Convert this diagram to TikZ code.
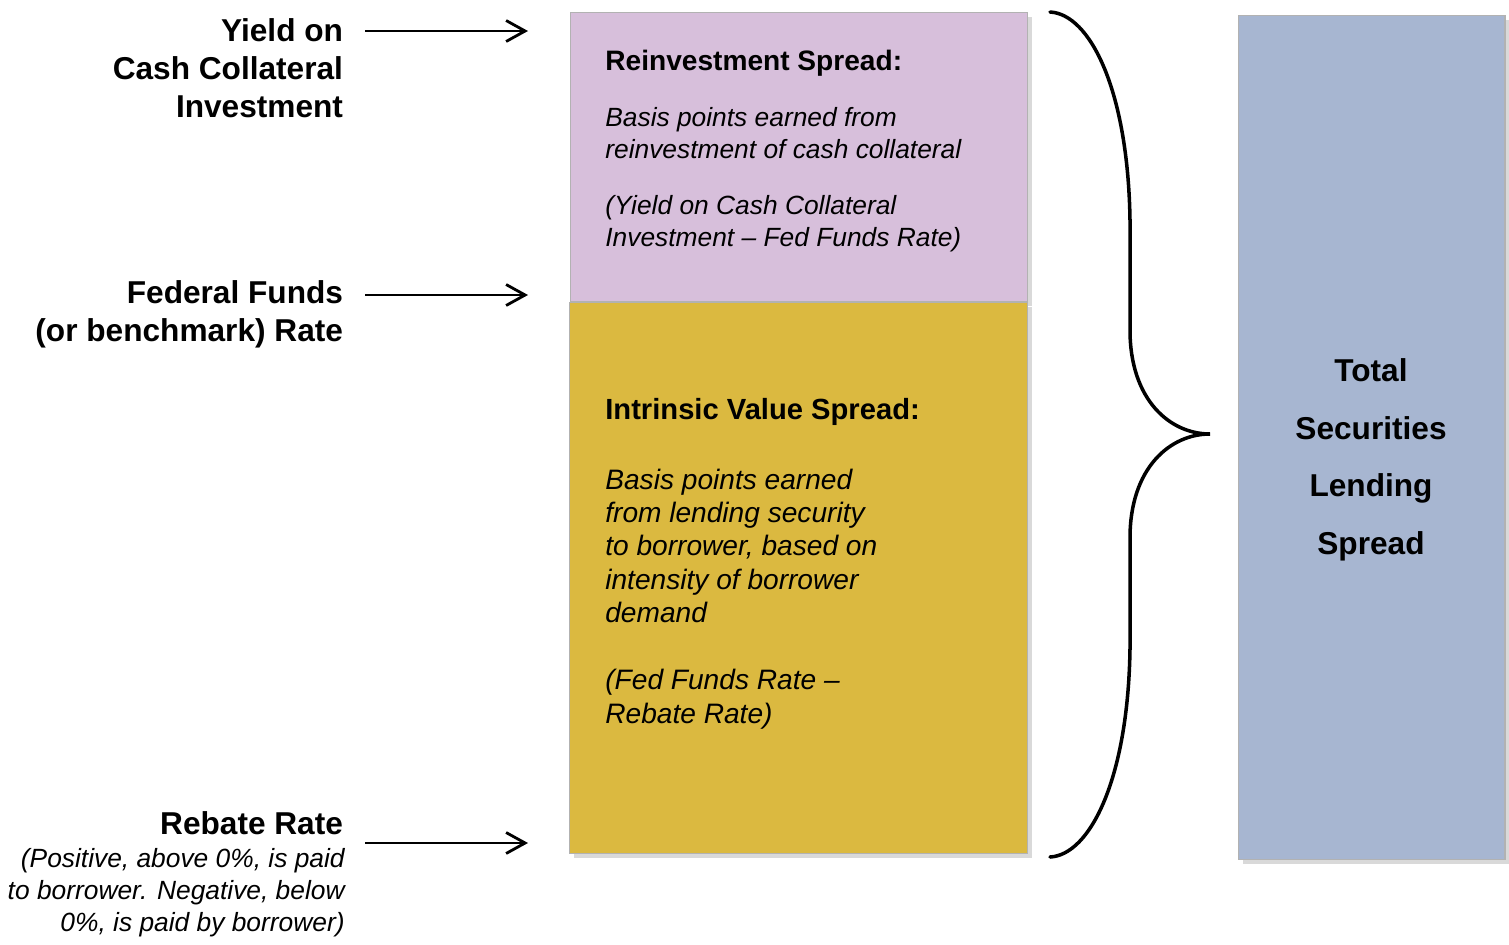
\documentclass[tikz,border=0pt]{standalone}
\usepackage{fontspec}
\setmainfont{Liberation Sans}
\usetikzlibrary{
    arrows.meta,
    shadows
}
\definecolor{reinvpurple}{RGB}{215,191,219}
\definecolor{intrgold}{RGB}{219,185,64}
\definecolor{totalblue}{RGB}{167,182,209}

\begin{document}
\begin{tikzpicture}[
    x=0.02cm,
    y=-0.02cm,
    spreadbox/.style={
        rectangle,
        draw=black!30,
        line width=0.6pt,
        inner sep=0pt,
        drop shadow={
            shadow xshift=0.09cm,
            shadow yshift=-0.09cm,
            opacity=0.3
        }
    },
    ratelabel/.style={
        anchor=base east,
        align=right,
        inner sep=0pt,
        outer xsep=0.44cm,
        font=\fontsize{18}{21.6}\selectfont\bfseries
    },
    ratenote/.style={
        anchor=base east,
        align=right,
        inner sep=0pt,
        font=\fontsize{15}{18.1}\selectfont\itshape
    },
    boxhead/.style={
        anchor=base west,
        inner sep=0pt,
        font=\fontsize{16}{19}\selectfont\bfseries
    },
    boxbody/.style={
        anchor=base west,
        align=left,
        inner sep=0pt,
        font=\fontsize{15}{18.1}\selectfont\itshape
    },
    pointer/.style={
        -{Straight Barb[length=0.38cm,width=0.42cm]},
        line width=1.6pt
    },
    brace/.style={
        line width=2pt,
        line cap=round
    }
]

\useasboundingbox (0,0) rectangle (1509,944);

% spread boxes

\node[spreadbox, fill=reinvpurple, minimum width=9.16cm, minimum height=5.8cm]
    (reinv) at (799,157) {};

\node[spreadbox, fill=intrgold, minimum width=9.18cm, minimum height=11.04cm]
    (intr) at (798.5,578) {};

\node[spreadbox, fill=totalblue, minimum width=5.34cm, minimum height=16.9cm]
    (total) at (1371.5,437.5) {};

% box texts (multi-line nodes sit on their last baseline)

\node[boxhead] (reinvhead) at (605,70) {Reinvestment Spread:};

\node[boxbody] (reinvbody) at (605,246) {
    Basis points earned from\\
    reinvestment of cash collateral\\[0.48cm]
    (Yield on Cash Collateral\\
    Investment – Fed Funds Rate)
};

\node[boxhead, font=\fontsize{16.6}{19}\selectfont\bfseries]
    (intrhead) at (605,419) {Intrinsic Value Spread:};

\node[boxbody, font=\fontsize{16}{19}\selectfont\itshape] (intrbody) at (605,723) {
    Basis points earned\\
    from lending security\\
    to borrower, based on\\
    intensity of borrower\\
    demand\\[0.67cm]
    (Fed Funds Rate –\\
    Rebate Rate)
};

\node[anchor=base, align=center, inner sep=0pt,
    font=\fontsize{18}{32.7}\selectfont\bfseries]
    (totaltext) at (1371,554) {
    Total\\
    Securities\\
    Lending\\
    Spread
};

% rate labels

\node[ratelabel] (yield) at (365,117) {
    Yield on\\
    Cash Collateral\\
    Investment
};

\node[ratelabel] (fed) at (365,341) {
    Federal Funds\\
    (or benchmark) Rate
};

\node[ratelabel] (rebate) at (365,834) {Rebate Rate};

\node[ratenote] (rebatenote) at (345,931) {
    (Positive, above 0\%, is paid\\
    to borrower. Negative, below\\
    0\%, is paid by borrower)
};

% pointers

\coordinate (yieldhead) at (528,31);
\coordinate (fedhead) at (528,295);
\coordinate (rebatehead) at (528,843);

\draw[pointer] (yield.east |- yieldhead) -- (yieldhead);
\draw[pointer] (fed.east |- fedhead) -- (fedhead);
\draw[pointer] (rebate.east |- rebatehead) -- (rebatehead);

% brace

\coordinate (bracetop) at (1050,12);
\coordinate (bracetip) at (1210,434);
\coordinate (bracebot) at (1050,857);

\draw[brace]
    (bracetop)
    .. controls (1090,14) and (1128,90) .. (1130,220)
    -- (1130,330)
    .. controls (1130,400) and (1170,434) .. (bracetip)
    .. controls (1170,434) and (1130,468) .. (1130,538)
    -- (1130,649)
    .. controls (1128,779) and (1090,855) .. (bracebot);

\end{tikzpicture}
\end{document}
